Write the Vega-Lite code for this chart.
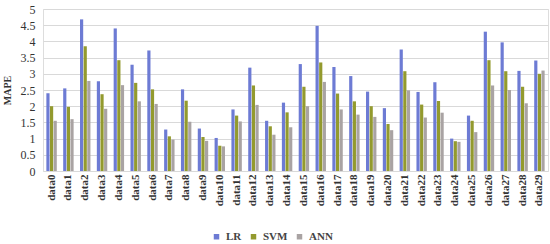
{
  "$schema": "https://vega.github.io/schema/vega-lite/v6.json",
  "width": 505,
  "height": 162,
  "autosize": {"type": "none"},
  "padding": {"left": 43, "top": 9, "right": 2, "bottom": 73},
  "background": "white",
  "data": {"values": [
    {"cat":"data0","model":"LR","v":2.4},{"cat":"data0","model":"SVM","v":2.0},{"cat":"data0","model":"ANN","v":1.55},
    {"cat":"data1","model":"LR","v":2.55},{"cat":"data1","model":"SVM","v":1.98},{"cat":"data1","model":"ANN","v":1.6},
    {"cat":"data2","model":"LR","v":4.68},{"cat":"data2","model":"SVM","v":3.85},{"cat":"data2","model":"ANN","v":2.78},
    {"cat":"data3","model":"LR","v":2.77},{"cat":"data3","model":"SVM","v":2.37},{"cat":"data3","model":"ANN","v":1.92},
    {"cat":"data4","model":"LR","v":4.4},{"cat":"data4","model":"SVM","v":3.42},{"cat":"data4","model":"ANN","v":2.65},
    {"cat":"data5","model":"LR","v":3.28},{"cat":"data5","model":"SVM","v":2.72},{"cat":"data5","model":"ANN","v":2.15},
    {"cat":"data6","model":"LR","v":3.72},{"cat":"data6","model":"SVM","v":2.52},{"cat":"data6","model":"ANN","v":2.07},
    {"cat":"data7","model":"LR","v":1.28},{"cat":"data7","model":"SVM","v":1.07},{"cat":"data7","model":"ANN","v":0.97},
    {"cat":"data8","model":"LR","v":2.52},{"cat":"data8","model":"SVM","v":2.17},{"cat":"data8","model":"ANN","v":1.52},
    {"cat":"data9","model":"LR","v":1.31},{"cat":"data9","model":"SVM","v":1.05},{"cat":"data9","model":"ANN","v":0.93},
    {"cat":"data10","model":"LR","v":1.02},{"cat":"data10","model":"SVM","v":0.78},{"cat":"data10","model":"ANN","v":0.76},
    {"cat":"data11","model":"LR","v":1.9},{"cat":"data11","model":"SVM","v":1.71},{"cat":"data11","model":"ANN","v":1.53},
    {"cat":"data12","model":"LR","v":3.19},{"cat":"data12","model":"SVM","v":2.64},{"cat":"data12","model":"ANN","v":2.04},
    {"cat":"data13","model":"LR","v":1.55},{"cat":"data13","model":"SVM","v":1.38},{"cat":"data13","model":"ANN","v":1.12},
    {"cat":"data14","model":"LR","v":2.11},{"cat":"data14","model":"SVM","v":1.81},{"cat":"data14","model":"ANN","v":1.35},
    {"cat":"data15","model":"LR","v":3.3},{"cat":"data15","model":"SVM","v":2.6},{"cat":"data15","model":"ANN","v":2.0},
    {"cat":"data16","model":"LR","v":4.48},{"cat":"data16","model":"SVM","v":3.35},{"cat":"data16","model":"ANN","v":2.75},
    {"cat":"data17","model":"LR","v":3.21},{"cat":"data17","model":"SVM","v":2.39},{"cat":"data17","model":"ANN","v":1.9},
    {"cat":"data18","model":"LR","v":2.93},{"cat":"data18","model":"SVM","v":2.15},{"cat":"data18","model":"ANN","v":1.74},
    {"cat":"data19","model":"LR","v":2.45},{"cat":"data19","model":"SVM","v":2.0},{"cat":"data19","model":"ANN","v":1.67},
    {"cat":"data20","model":"LR","v":1.94},{"cat":"data20","model":"SVM","v":1.45},{"cat":"data20","model":"ANN","v":1.26},
    {"cat":"data21","model":"LR","v":3.75},{"cat":"data21","model":"SVM","v":3.08},{"cat":"data21","model":"ANN","v":2.49},
    {"cat":"data22","model":"LR","v":2.44},{"cat":"data22","model":"SVM","v":2.05},{"cat":"data22","model":"ANN","v":1.65},
    {"cat":"data23","model":"LR","v":2.74},{"cat":"data23","model":"SVM","v":2.16},{"cat":"data23","model":"ANN","v":1.8},
    {"cat":"data24","model":"LR","v":1.0},{"cat":"data24","model":"SVM","v":0.92},{"cat":"data24","model":"ANN","v":0.9},
    {"cat":"data25","model":"LR","v":1.71},{"cat":"data25","model":"SVM","v":1.55},{"cat":"data25","model":"ANN","v":1.2},
    {"cat":"data26","model":"LR","v":4.3},{"cat":"data26","model":"SVM","v":3.42},{"cat":"data26","model":"ANN","v":2.64},
    {"cat":"data27","model":"LR","v":3.97},{"cat":"data27","model":"SVM","v":3.08},{"cat":"data27","model":"ANN","v":2.5},
    {"cat":"data28","model":"LR","v":3.09},{"cat":"data28","model":"SVM","v":2.6},{"cat":"data28","model":"ANN","v":2.09},
    {"cat":"data29","model":"LR","v":3.41},{"cat":"data29","model":"SVM","v":3.0},{"cat":"data29","model":"ANN","v":3.1}
  ]},
  "mark": {"type": "bar"},
  "encoding": {
    "x": {
      "field": "cat", "type": "nominal", "sort": null,
      "scale": {"paddingInner": 0.38, "paddingOuter": 0.2},
      "axis": {"title": null, "labelAngle": -90, "labelFont": "Liberation Serif", "labelFontWeight": "bold", "labelFontSize": 11, "labelColor": "#333", "ticks": false, "domain": false, "labelPadding": 3}
    },
    "xOffset": {"field": "model", "sort": ["LR", "SVM", "ANN"], "scale": {"paddingInner": 0.12}},
    "y": {
      "field": "v", "type": "quantitative",
      "scale": {"domain": [0, 5], "nice": false},
      "axis": {"title": "MAPE", "titleFont": "Liberation Serif", "titleFontSize": 10, "titleFontWeight": "bold", "titleColor": "#333", "titlePadding": 8,
               "values": [0,0.5,1,1.5,2,2.5,3,3.5,4,4.5,5], "format": "~g", "labelFont": "Liberation Serif", "labelFontSize": 12, "labelColor": "#333",
               "ticks": false, "domain": false, "gridColor": "#d9d9d9", "labelPadding": 8}
    },
    "color": {
      "field": "model", "type": "nominal",
      "scale": {"domain": ["LR", "SVM", "ANN"], "range": ["#6d7bd4", "#939a2e", "#a9a3a3"]},
      "legend": {"title": null, "orient": "none", "legendX": 168, "legendY": 222, "direction": "horizontal", "symbolType": "square", "symbolSize": 30,
                 "labelFont": "Liberation Serif", "labelFontWeight": "bold", "labelFontSize": 11, "labelColor": "#444", "columnPadding": 6, "symbolOffset": 0}
    }
  }
}
